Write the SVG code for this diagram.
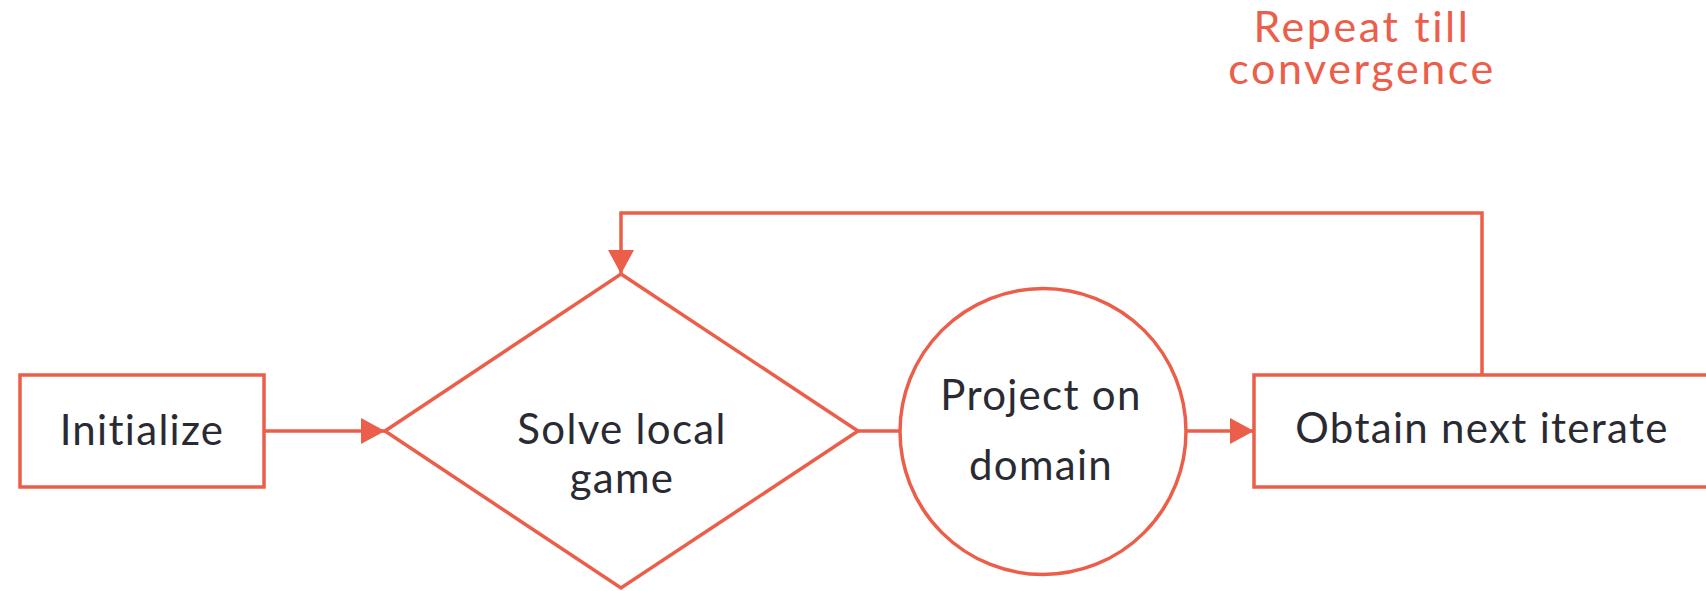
<svg xmlns="http://www.w3.org/2000/svg" width="1706" height="591" viewBox="0 0 1706 591">
  <defs>
    <style>
      .shape { fill: #ffffff; stroke: #EB5E4A; stroke-width: 3.5; }
      .wire { fill: none; stroke: #EB5E4A; stroke-width: 3.5; }
      .label { font-family: "Lato", "Liberation Sans", sans-serif; font-weight: 400; font-size: 42px; letter-spacing: 1.3px; fill: #2A2A33; text-anchor: middle; }
      .note { font-family: "Lato", "Liberation Sans", sans-serif; font-weight: 400; font-size: 43px; letter-spacing: 2.6px; fill: #EB5E4A; text-anchor: middle; }
    </style>
    <marker id="arrow" viewBox="0 0 24 26" refX="24" refY="13" markerWidth="24" markerHeight="26" markerUnits="userSpaceOnUse" orient="auto">
      <path d="M0,0 L24,13 L0,26 Z" fill="#EB5E4A"/>
    </marker>
  </defs>
  <rect width="1706" height="591" fill="#ffffff"/>

  <!-- connectors -->
  <g id="connectors">
    <line class="wire" x1="264" y1="431" x2="385" y2="431" marker-end="url(#arrow)"/>
    <line class="wire" x1="858" y1="431" x2="900" y2="431"/>
    <line class="wire" x1="1186" y1="431" x2="1254" y2="431" marker-end="url(#arrow)"/>
    <polyline class="wire" points="1482,375 1482,213 621,213 621,274" marker-end="url(#arrow)"/>
  </g>

  <g id="node-initialize">
    <rect class="shape" x="20" y="375" width="244" height="112"/>
    <text class="label" x="142" y="445">Initialize</text>
  </g>

  <g id="node-solve">
    <polygon class="shape" points="621,274 858,431 621,588 385,431"/>
    <text class="label" x="622" y="444">Solve local</text>
    <text class="label" x="622" y="493">game</text>
  </g>

  <g id="node-project">
    <circle class="shape" cx="1043" cy="431.5" r="143"/>
    <text class="label" x="1041" y="410">Project on</text>
    <text class="label" x="1041" y="480">domain</text>
  </g>

  <g id="node-obtain">
    <rect class="shape" x="1254" y="375" width="456" height="112"/>
    <text class="label" x="1482" y="443">Obtain next iterate</text>
  </g>

  <g id="note-repeat">
    <text class="note" x="1362" y="42">Repeat till</text>
    <text class="note" x="1362" y="84">convergence</text>
  </g>
</svg>
